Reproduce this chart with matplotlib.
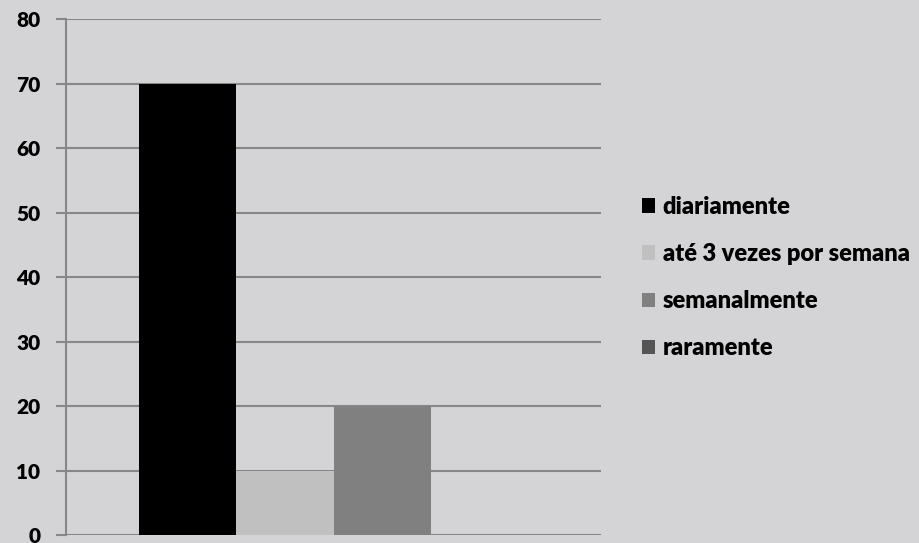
import matplotlib.pyplot as plt
from matplotlib.patches import Patch

categories = ['diariamente', 'até 3 vezes por semana', 'semanalmente', 'raramente']
values = [70, 10, 20, 0]
colors = ['#000000', '#c0c0c0', '#808080', '#555555']
yticks = [0, 10, 20, 30, 40, 50, 60, 70, 80]

bg = '#d4d4d6'
grid = '#878787'

plt.rcParams['font.family'] = ['Lato', 'DejaVu Sans']
plt.rcParams['font.weight'] = 'bold'

fig = plt.figure(figsize=(9.19, 5.43), dpi=100, facecolor=bg)
ax = fig.add_axes([0.0718, 0.0147, 0.5822, 0.9503], facecolor=bg)

width = 0.182
start = -2 * width
for i, (cat, val, col) in enumerate(zip(categories, values, colors)):
    ax.bar(start + i * width + width / 2, val, width=width, color=col,
           label=cat, zorder=3)

ax.set_xlim(-0.5, 0.5)
ax.set_ylim(0, 80)
ax.set_yticks(yticks)
ax.set_xticks([])
ax.yaxis.grid(True, color=grid, linewidth=1.5, zorder=0)
ax.tick_params(axis='y', length=7.5, width=1.5, color=grid, pad=11,
               labelsize=15, labelcolor='black')
for s in ['top', 'right', 'bottom']:
    ax.spines[s].set_visible(False)
ax.spines['left'].set_color(grid)
ax.spines['left'].set_linewidth(1.5)
for lbl in ax.get_yticklabels():
    lbl.set_fontweight('heavy')

handles = [Patch(facecolor=c, edgecolor='none') for c in colors]
leg = fig.legend(handles, categories, loc='center left',
                 bbox_to_anchor=(0.676, 0.489), frameon=False,
                 handlelength=0.55, handleheight=0.55, handletextpad=0.3,
                 labelspacing=1.06, prop={'size': 17, 'weight': 'heavy'})

fig.savefig('out.png', dpi=100, facecolor=bg)
